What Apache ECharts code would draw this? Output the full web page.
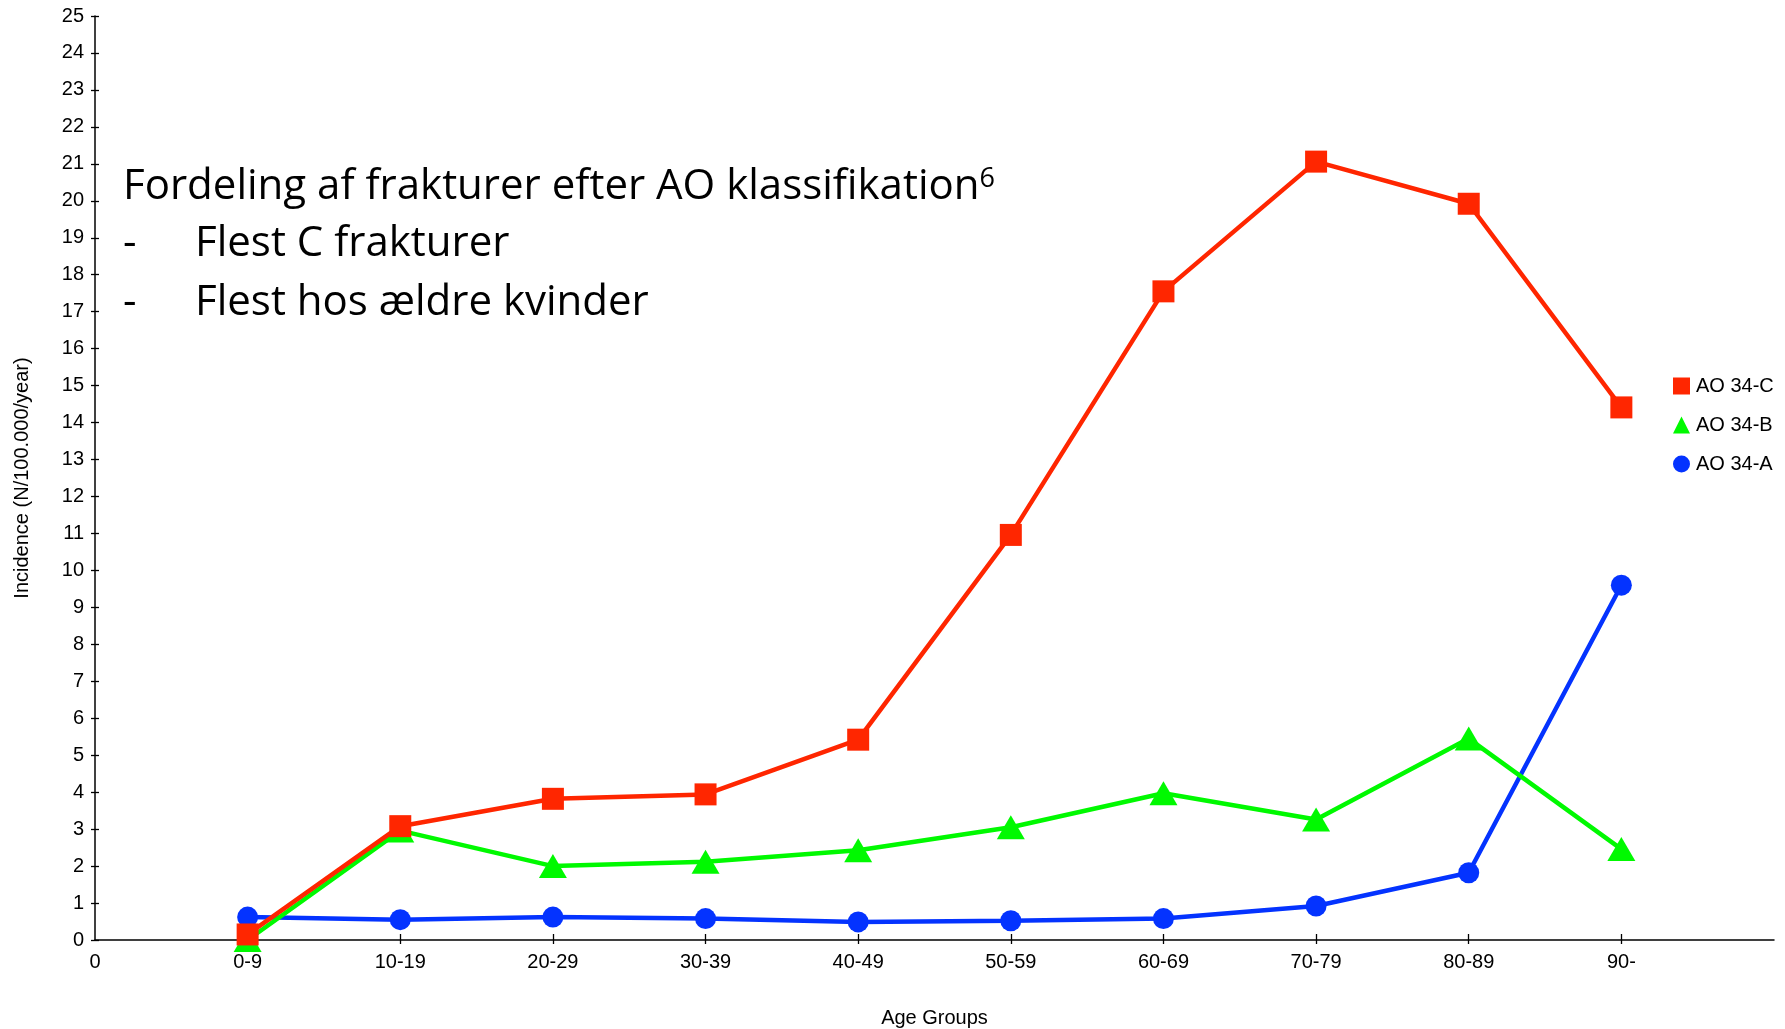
<!DOCTYPE html>
<html>
<head>
<meta charset="utf-8">
<style>
  html, body { margin: 0; padding: 0; background: #fff; }
  #chart { width: 1785px; height: 1029px; }
</style>
<script src="https://cdn.jsdelivr.net/npm/echarts@6/dist/echarts.min.js"></script>
</head>
<body>
<div id="chart"></div>
<script>
// ---- data ----
const categories = ["0-9", "10-19", "20-29", "30-39", "40-49", "50-59", "60-69", "70-79", "80-89", "90-"];
const xTickLabels = ["0", "0-9", "10-19", "20-29", "30-39", "40-49", "50-59", "60-69", "70-79", "80-89", "90-", ""];
const ao34C = [0.15, 3.08, 3.82, 3.94, 5.42, 10.96, 17.55, 21.06, 19.92, 14.41];
const ao34B = [0.0, 2.96, 2.0, 2.12, 2.43, 3.05, 3.97, 3.26, 5.45, 2.46];
const ao34A = [0.62, 0.55, 0.62, 0.58, 0.49, 0.52, 0.58, 0.92, 1.82, 9.6];
const seriesNames = ["AO 34-C", "AO 34-B", "AO 34-A"];
const yMin = 0, yMax = 25, yStep = 1;
const noteLines = ["Fordeling af frakturer efter AO klassifikation", "-", "Flest C frakturer", "Flest hos ældre kvinder"];

const RED = "#FF2600", GREEN = "#00F900", BLUE = "#0433FF";
const FONT = "'Liberation Sans', Arial, Helvetica, sans-serif";
const NOTE_FONT = "42px 'Open Sans'";

function pts(arr) { return arr.map((v, i) => [i + 1, v]); }
const catPos = categories.map((c, i) => i + 1);

const chart = echarts.init(document.getElementById('chart'), null, { renderer: 'canvas' });

const axisLineStyle = { color: "#000", width: 1.5 };

const option = {
  backgroundColor: "#fff",
  animation: false,
  textStyle: { fontFamily: FONT },
  grid: { left: 95, right: 11, top: 16, bottom: 89, containLabel: false, outerBoundsMode: "none" },
  xAxis: [
    {
      type: "value", min: 0, max: xTickLabels.length - 1, interval: 1,
      position: "bottom",
      name: "Age Groups", nameLocation: "middle", nameGap: 68,
      nameTextStyle: { color: "#000", fontSize: 20, fontFamily: FONT },
      axisLine: { show: true, lineStyle: axisLineStyle },
      axisTick: { show: true, length: 4, lineStyle: { color: "#000", width: 1.3 }, customValues: catPos },
      axisLabel: {
        color: "#000", fontSize: 20, fontFamily: FONT, margin: 12,
        customValues: [0].concat(catPos),
        formatter: v => xTickLabels[v] || ""
      },
      splitLine: { show: false }
    },
    {
      type: "value", min: 0, max: xTickLabels.length - 1, interval: 1,
      position: "bottom", offset: 0,
      axisLine: { show: false },
      axisTick: { show: true, inside: true, length: 6, lineStyle: { color: "#000", width: 1.3 }, customValues: catPos },
      axisLabel: { show: false },
      splitLine: { show: false }
    }
  ],
  yAxis: [
    {
      type: "value", min: yMin, max: yMax, interval: yStep,
      position: "left",
      name: "Incidence (N/100.000/year)", nameLocation: "middle", nameGap: 63, nameRotate: 90,
      nameTextStyle: { color: "#000", fontSize: 20, fontFamily: FONT },
      axisLine: { show: true, lineStyle: axisLineStyle },
      axisTick: { show: true, length: 4, lineStyle: { color: "#000", width: 1.3 } },
      axisLabel: { color: "#000", fontSize: 20, fontFamily: FONT, margin: 11 },
      splitLine: { show: false }
    },
    {
      type: "value", min: yMin, max: yMax, interval: yStep,
      position: "left", offset: 0,
      axisLine: { show: false },
      axisTick: { show: true, inside: true, length: 4, lineStyle: { color: "#000", width: 1.3 } },
      axisLabel: { show: false },
      splitLine: { show: false }
    }
  ],
  legend: {
    orient: "vertical",
    left: 1668, top: 371,
    itemWidth: 17, itemHeight: 17, itemGap: 19,
    textStyle: { color: "#000", fontSize: 20, fontFamily: FONT, padding: [0, 0, 0, 1] },
    data: [
      { name: seriesNames[0], icon: "rect" },
      { name: seriesNames[1], icon: "triangle" },
      { name: seriesNames[2], icon: "circle" }
    ]
  },
  series: [
    {
      name: seriesNames[2], type: "line", data: pts(ao34A), z: 2,
      symbol: "circle", symbolSize: 21,
      lineStyle: { color: BLUE, width: 4.5 }, itemStyle: { color: BLUE }
    },
    {
      name: seriesNames[1], type: "line", data: pts(ao34B), z: 3,
      symbol: "triangle", symbolSize: [28, 24],
      lineStyle: { color: GREEN, width: 4.5 }, itemStyle: { color: GREEN }
    },
    {
      name: seriesNames[0], type: "line", data: pts(ao34C), z: 4,
      symbol: "rect", symbolSize: 22,
      lineStyle: { color: RED, width: 4.5 }, itemStyle: { color: RED }
    }
  ],
  graphic: [
    {
      type: "text", left: 123, top: 166, z: 100,
      style: {
        text: noteLines[0] + "{sup|6}",
        font: NOTE_FONT, fill: "#000",
        rich: { sup: { fontSize: 27, fontFamily: "Open Sans", verticalAlign: "top", fill: "#000", padding: [0, 0, 14, 0] } }
      }
    },
    { type: "text", left: 123, top: 223, z: 100, style: { text: noteLines[1], font: NOTE_FONT, fill: "#000" } },
    { type: "text", left: 195, top: 223, z: 100, style: { text: noteLines[2], font: NOTE_FONT, fill: "#000" } },
    { type: "text", left: 123, top: 282, z: 100, style: { text: noteLines[1], font: NOTE_FONT, fill: "#000" } },
    { type: "text", left: 195, top: 282, z: 100, style: { text: noteLines[3], font: NOTE_FONT, fill: "#000" } }
  ]
};

chart.setOption(option);
</script>
</body>
</html>
